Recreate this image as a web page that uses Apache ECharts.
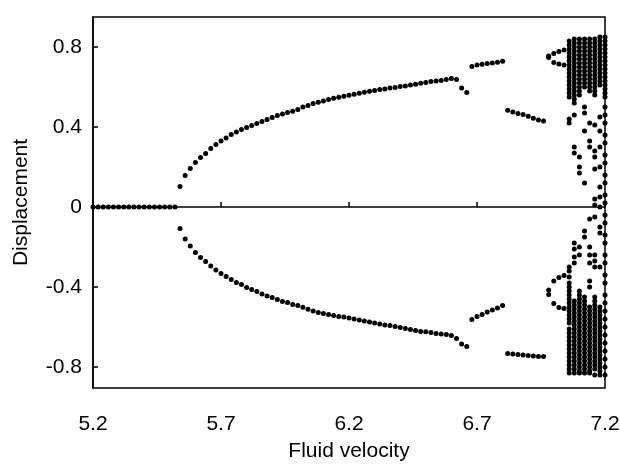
<!DOCTYPE html>
<html style="height: 100%">
<head>
    <meta charset="utf-8">
    <script src="https://cdn.jsdelivr.net/npm/echarts@6/dist/echarts.min.js"></script>
</head>
<body style="height: 100%; margin: 0; background: #fff">
    <div id="container" style="width: 620px; height: 467px"></div>
    <script type="text/javascript">
        // steady state (zero displacement)
        var vStable = [5.20, 5.22, 5.24, 5.26, 5.28, 5.30, 5.32, 5.34, 5.36, 5.38, 5.40, 5.42, 5.44, 5.46, 5.48, 5.50, 5.52];
        var dStable = [0, 0, 0, 0, 0, 0, 0, 0, 0, 0, 0, 0, 0, 0, 0, 0, 0];

        // period-1 branch after the Hopf point
        var vBranch = [5.54, 5.56, 5.58, 5.60, 5.62, 5.64, 5.66, 5.68, 5.70, 5.72, 5.74, 5.76, 5.78, 5.80, 5.82, 5.84, 5.86, 5.88, 5.90,
            5.92, 5.94, 5.96, 5.98, 6.00, 6.02, 6.04, 6.06, 6.08, 6.10, 6.12, 6.14, 6.16, 6.18, 6.20, 6.22, 6.24, 6.26, 6.28, 6.30,
            6.32, 6.34, 6.36, 6.38, 6.40, 6.42, 6.44, 6.46, 6.48, 6.50, 6.52, 6.54, 6.56, 6.58, 6.60, 6.62, 6.64, 6.66];
        var dUpper = [0.102, 0.157, 0.192, 0.222, 0.248, 0.268, 0.292, 0.312, 0.330, 0.345, 0.362, 0.375, 0.387, 0.398, 0.408, 0.418,
            0.428, 0.438, 0.447, 0.457, 0.465, 0.472, 0.479, 0.487, 0.500, 0.508, 0.517, 0.524, 0.530, 0.537, 0.544, 0.549, 0.554,
            0.559, 0.564, 0.569, 0.574, 0.579, 0.582, 0.587, 0.590, 0.595, 0.598, 0.602, 0.605, 0.610, 0.614, 0.619, 0.622, 0.627,
            0.630, 0.633, 0.637, 0.642, 0.638, 0.595, 0.573];
        var dLower = [-0.107, -0.160, -0.195, -0.227, -0.252, -0.273, -0.295, -0.315, -0.333, -0.348, -0.362, -0.377, -0.388, -0.402,
            -0.412, -0.423, -0.435, -0.445, -0.453, -0.463, -0.472, -0.478, -0.487, -0.493, -0.501, -0.511, -0.520, -0.527, -0.532,
            -0.537, -0.542, -0.547, -0.550, -0.555, -0.560, -0.565, -0.570, -0.575, -0.580, -0.585, -0.590, -0.593, -0.598, -0.603,
            -0.608, -0.612, -0.617, -0.622, -0.624, -0.628, -0.632, -0.635, -0.638, -0.642, -0.657, -0.685, -0.698];

        // second and third short branches
        var vSeg2 = [6.68, 6.70, 6.72, 6.74, 6.76, 6.78, 6.80];
        var dSeg2Up = [0.702, 0.710, 0.714, 0.718, 0.720, 0.724, 0.729];
        var dSeg2Lo = [-0.562, -0.548, -0.537, -0.525, -0.515, -0.505, -0.493];
        var vSeg3 = [6.82, 6.84, 6.86, 6.88, 6.90, 6.92, 6.94, 6.96];
        var dSeg3Up = [0.484, 0.475, 0.467, 0.462, 0.454, 0.444, 0.435, 0.430];
        var dSeg3Lo = [-0.733, -0.735, -0.738, -0.740, -0.742, -0.745, -0.747, -0.748];

        // period doubling before chaos
        var vDouble = [6.98, 7.00, 7.02, 7.04];
        var dDoubleA = [0.748, 0.768, 0.777, 0.785];
        var dDoubleB = [0.755, 0.722, 0.715, 0.710];
        var dDoubleC = [-0.415, -0.370, -0.353, -0.342];
        var dDoubleD = [-0.437, -0.482, -0.502, -0.507];

        // chaotic region, one list per velocity
        var vChaos = [7.06, 7.08, 7.10, 7.12, 7.14, 7.16, 7.18, 7.20];
        var chaos706 = [0.83, 0.81, 0.79, 0.77, 0.75, 0.73, 0.71, 0.69, 0.67, 0.65, 0.63, 0.61, 0.59, 0.57, 0.55, 0.44, 0.42,
            -0.30, -0.32, -0.35, -0.38, -0.40, -0.42, -0.44, -0.46, -0.48, -0.50, -0.52, -0.54, -0.56, -0.58, -0.61, -0.63, -0.65,
            -0.67, -0.69, -0.71, -0.73, -0.75, -0.77, -0.79, -0.81, -0.83];
        var chaos708 = [0.84, 0.82, 0.80, 0.78, 0.76, 0.74, 0.72, 0.70, 0.68, 0.66, 0.64, 0.62, 0.60, 0.58, 0.56, 0.54, 0.52, 0.46,
            0.30, 0.27, -0.18, -0.21, -0.25, -0.28, -0.47, -0.49, -0.51, -0.53, -0.55, -0.57, -0.59, -0.61, -0.63, -0.65, -0.67,
            -0.69, -0.71, -0.73, -0.75, -0.77, -0.79, -0.81, -0.83];
        var chaos710 = [0.84, 0.82, 0.80, 0.78, 0.76, 0.74, 0.72, 0.70, 0.68, 0.66, 0.64, 0.62, 0.60, 0.58, 0.56, 0.25, 0.20, 0.17,
            -0.20, -0.24, -0.42, -0.44, -0.46, -0.48, -0.50, -0.52, -0.54, -0.56, -0.58, -0.60, -0.62, -0.64, -0.66, -0.68, -0.70,
            -0.72, -0.74, -0.76, -0.78, -0.80, -0.82, -0.83];
        var chaos712 = [0.84, 0.82, 0.80, 0.78, 0.76, 0.74, 0.72, 0.70, 0.68, 0.66, 0.64, 0.62, 0.60, 0.50, 0.47, 0.38, 0.12,
            -0.12, -0.15, -0.45, -0.47, -0.49, -0.51, -0.53, -0.55, -0.57, -0.59, -0.61, -0.63, -0.65, -0.67, -0.69, -0.71, -0.73,
            -0.75, -0.77, -0.79, -0.81, -0.83];
        var chaos714 = [0.84, 0.82, 0.80, 0.78, 0.76, 0.74, 0.72, 0.70, 0.68, 0.66, 0.64, 0.62, 0.60, 0.58, 0.42, 0.33, 0.30,
            -0.06, -0.20, -0.24, -0.28, -0.37, -0.40, -0.50, -0.52, -0.54, -0.56, -0.58, -0.60, -0.62, -0.64, -0.66, -0.68, -0.70,
            -0.72, -0.74, -0.76, -0.78, -0.80, -0.82, -0.83];
        var chaos716 = [0.84, 0.82, 0.80, 0.78, 0.76, 0.74, 0.72, 0.70, 0.68, 0.66, 0.64, 0.62, 0.60, 0.58, 0.56, 0.41, 0.28, 0.25,
            0.19, 0.04, 0.01, -0.05, -0.24, -0.27, -0.30, -0.45, -0.47, -0.49, -0.51, -0.53, -0.55, -0.57, -0.59, -0.61, -0.63,
            -0.65, -0.67, -0.69, -0.71, -0.73, -0.75, -0.77, -0.79, -0.81, -0.84];
        var chaos718 = [0.85, 0.83, 0.81, 0.79, 0.77, 0.75, 0.73, 0.71, 0.69, 0.67, 0.65, 0.63, 0.61, 0.45, 0.38, 0.30, 0.20, 0.10,
            0.05, 0.00, -0.10, -0.13, -0.30, -0.50, -0.52, -0.54, -0.56, -0.58, -0.60, -0.62, -0.64, -0.66, -0.68, -0.70, -0.72,
            -0.74, -0.76, -0.78, -0.80, -0.82, -0.84];
        var chaos720 = [0.85, 0.83, 0.81, 0.79, 0.77, 0.75, 0.73, 0.71, 0.69, 0.67, 0.65, 0.63, 0.61, 0.59, 0.57, 0.55, 0.50, 0.46,
            0.42, 0.36, 0.32, 0.26, 0.22, 0.16, 0.12, 0.06, 0.02, -0.04, -0.08, -0.14, -0.18, -0.24, -0.28, -0.34, -0.38, -0.44,
            -0.48, -0.52, -0.56, -0.60, -0.64, -0.68, -0.72, -0.76, -0.80, -0.84];
        var chaosCols = [chaos706, chaos708, chaos710, chaos712, chaos714, chaos716, chaos718, chaos720];

        function pairs(xs, ys) {
            var out = [];
            for (var i = 0; i < xs.length; i++) {
                out.push([xs[i], ys[i]]);
            }
            return out;
        }

        var points = [].concat(
            pairs(vStable, dStable),
            pairs(vBranch, dUpper), pairs(vBranch, dLower),
            pairs(vSeg2, dSeg2Up), pairs(vSeg2, dSeg2Lo),
            pairs(vSeg3, dSeg3Up), pairs(vSeg3, dSeg3Lo),
            pairs(vDouble, dDoubleA), pairs(vDouble, dDoubleB),
            pairs(vDouble, dDoubleC), pairs(vDouble, dDoubleD)
        );
        chaosCols.forEach(function (col, i) {
            col.forEach(function (d) {
                points.push([vChaos[i], d]);
            });
        });

        var myChart = echarts.init(document.getElementById('container'));
        var fontFam = 'Liberation Sans, Arial, sans-serif';

        var option = {
            animation: false,
            backgroundColor: '#fff',
            grid: {
                left: 93,
                right: 15,
                top: 17,
                bottom: 79,
                outerBoundsMode: 'none',
                containLabel: false,
                show: true,
                borderColor: '#000',
                borderWidth: 1.5
            },
            xAxis: {
                type: 'value',
                min: 5.2,
                max: 7.2,
                name: 'Fluid velocity',
                nameLocation: 'middle',
                nameGap: 53,
                nameTextStyle: { color: '#000', fontSize: 21, fontFamily: fontFam },
                axisLine: { lineStyle: { color: '#000', width: 1.5 } },
                axisTick: { inside: true, length: 5, lineStyle: { color: '#000', width: 1.5 },
                    customValues: [5.2, 5.7, 6.2, 6.7, 7.2] },
                axisLabel: { color: '#000', fontSize: 21, fontFamily: fontFam, margin: 26,
                    customValues: [5.2, 5.7, 6.2, 6.7, 7.2] },
                splitLine: { show: false }
            },
            yAxis: {
                type: 'value',
                min: -0.905,
                max: 0.95,
                name: 'Displacement',
                nameLocation: 'middle',
                nameGap: 61,
                nameTextStyle: { color: '#000', fontSize: 21, fontFamily: fontFam },
                axisLine: { lineStyle: { color: '#000', width: 1.5 } },
                axisTick: { inside: true, length: 5, lineStyle: { color: '#000', width: 1.5 },
                    customValues: [-0.8, -0.4, 0, 0.4, 0.8] },
                axisLabel: { color: '#000', fontSize: 21, fontFamily: fontFam, margin: 11,
                    customValues: [-0.8, -0.4, 0, 0.4, 0.8] },
                splitLine: { show: false }
            },
            series: [
                {
                    type: 'scatter',
                    data: points,
                    symbolSize: 5,
                    itemStyle: { color: '#000', opacity: 1 }
                }
            ]
        };

        myChart.setOption(option);
    </script>
</body>
</html>
